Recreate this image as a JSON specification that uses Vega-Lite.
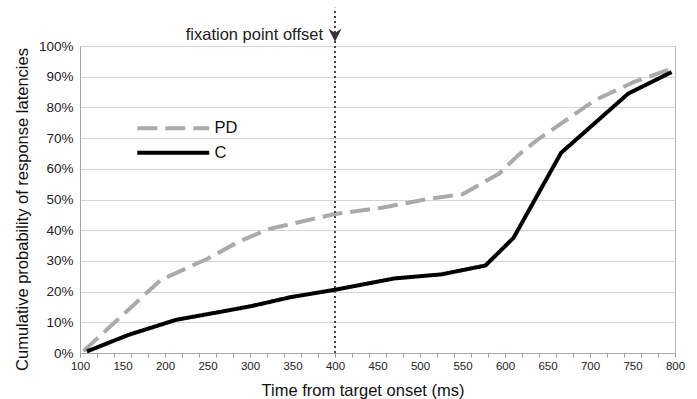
{
  "$schema": "https://vega.github.io/schema/vega-lite/v6.json",
  "width": 595,
  "height": 307,
  "autosize": {"type": "none"},
  "padding": {"left": 80, "top": 46, "right": 22, "bottom": 46},
  "background": "white",
  "config": {
    "font": "Liberation Sans",
    "view": {"stroke": "#b8b8b8", "strokeWidth": 1},
    "axis": {
      "labelFont": "Liberation Sans",
      "titleFont": "Liberation Sans",
      "labelColor": "#222222",
      "titleColor": "#111111",
      "titleFontWeight": "normal",
      "domainColor": "#a8a8a8"
    }
  },
  "resolve": {"axis": {"x": "independent", "y": "independent"}},
  "datasets": {
    "curves": [
      {"group": "PD", "t": 104, "p": 0.6},
      {"group": "PD", "t": 195, "p": 23.8},
      {"group": "PD", "t": 250, "p": 30.7},
      {"group": "PD", "t": 287, "p": 36.3},
      {"group": "PD", "t": 321, "p": 40.3},
      {"group": "PD", "t": 400, "p": 45.3},
      {"group": "PD", "t": 455, "p": 47.3},
      {"group": "PD", "t": 510, "p": 50.2},
      {"group": "PD", "t": 550, "p": 51.7},
      {"group": "PD", "t": 593, "p": 58.4},
      {"group": "PD", "t": 615, "p": 64.3},
      {"group": "PD", "t": 638, "p": 69.4},
      {"group": "PD", "t": 706, "p": 82.4},
      {"group": "PD", "t": 752, "p": 88.3},
      {"group": "PD", "t": 796, "p": 92.6},
      {"group": "C", "t": 108, "p": 0.5},
      {"group": "C", "t": 157, "p": 5.9},
      {"group": "C", "t": 213, "p": 10.8},
      {"group": "C", "t": 275, "p": 13.9},
      {"group": "C", "t": 302, "p": 15.3},
      {"group": "C", "t": 348, "p": 18.2},
      {"group": "C", "t": 400, "p": 20.6},
      {"group": "C", "t": 470, "p": 24.3},
      {"group": "C", "t": 525, "p": 25.6},
      {"group": "C", "t": 577, "p": 28.5},
      {"group": "C", "t": 610, "p": 37.5},
      {"group": "C", "t": 666, "p": 65.2},
      {"group": "C", "t": 745, "p": 84.5},
      {"group": "C", "t": 796, "p": 91.5}
    ]
  },
  "layer": [
    {
      "data": {"name": "curves"},
      "mark": {"type": "line", "strokeWidth": 4, "strokeCap": "butt", "strokeJoin": "round"},
      "encoding": {
        "x": {
          "field": "t",
          "type": "quantitative",
          "scale": {"domain": [100, 800], "nice": false, "zero": false},
          "axis": {
            "values": [100, 120, 140, 150, 160, 180, 200, 220, 240, 250, 260, 280, 300, 320, 340, 350, 360, 380, 400, 420, 440, 450, 460, 480, 500, 520, 540, 550, 560, 580, 600, 620, 640, 650, 660, 680, 700, 720, 740, 750, 760, 780, 800],
            "labelExpr": "datum.value % 50 == 0 ? datum.label : ''",
            "format": "d",
            "labelFontSize": 11.5,
            "labelOverlap": false,
            "labelFlush": false,
            "labelPadding": 3,
            "tickSize": 4,
            "tickColor": "#999999",
            "tickOpacity": {"condition": {"test": "datum.value % 20 == 0", "value": 1}, "value": 0},
            "grid": false,
            "title": "Time from target onset (ms)",
            "titleFontSize": 16.5,
            "titleX": 282.5,
            "titleY": 42.5,
            "titleBaseline": "alphabetic"
          }
        },
        "y": {
          "field": "p",
          "type": "quantitative",
          "scale": {"domain": [0, 100], "nice": false},
          "axis": {
            "values": [0, 10, 20, 30, 40, 50, 60, 70, 80, 90, 100],
            "labelExpr": "datum.value + '%'",
            "labelOverlap": false,
            "ticks": false,
            "labelPadding": 7,
            "labelFontSize": 13.5,
            "grid": true,
            "gridColor": "#d4d4d4",
            "title": "Cumulative probability of response latencies",
            "titleFontSize": 16.5,
            "titleX": -53,
            "titleY": 163,
            "titleBaseline": "alphabetic",
            "titleAngle": -90
          }
        },
        "color": {
          "field": "group",
          "type": "nominal",
          "scale": {"domain": ["PD", "C"], "range": ["#aaaaaa", "#000000"]},
          "legend": {
            "title": null,
            "orient": "none",
            "legendX": 55,
            "legendY": 74,
            "symbolType": "M-1,0L11,0",
            "symbolSize": 144,
            "symbolStrokeWidth": 4,
            "labelFontSize": 16.5,
            "labelFont": "Liberation Sans",
            "labelColor": "#111111",
            "labelOffset": 63,
            "rowPadding": 7.5
          }
        },
        "strokeDash": {
          "field": "group",
          "type": "nominal",
          "scale": {"domain": ["PD", "C"], "range": [[20, 8], [1, 0]]},
          "legend": {
            "title": null,
            "orient": "none",
            "legendX": 55,
            "legendY": 74,
            "symbolType": "M-1,0L11,0",
            "symbolSize": 144,
            "symbolStrokeWidth": 4,
            "labelFontSize": 16.5,
            "labelFont": "Liberation Sans",
            "labelColor": "#111111",
            "labelOffset": 63,
            "rowPadding": 7.5
          }
        }
      }
    },
    {
      "data": {"values": [{}]},
      "mark": {"type": "rule", "strokeDash": [2, 3], "strokeWidth": 2, "color": "#444444"},
      "encoding": {
        "x": {"datum": 400, "type": "quantitative", "axis": null},
        "y": {"datum": 0, "type": "quantitative", "axis": null},
        "y2": {"datum": 112.5}
      }
    },
    {
      "data": {"values": [{}]},
      "mark": {"type": "point", "shape": "M-1,-1L0,-0.4L1,-1L0,1Z", "filled": true, "size": 170, "color": "#333333", "opacity": 1},
      "encoding": {
        "x": {"datum": 400, "type": "quantitative", "axis": null},
        "y": {"datum": 103.5, "type": "quantitative", "axis": null}
      }
    },
    {
      "data": {"values": [{}]},
      "mark": {"type": "text", "text": "fixation point offset", "align": "right", "baseline": "alphabetic", "dx": -12, "fontSize": 16.5, "font": "Liberation Sans", "color": "#222222"},
      "encoding": {
        "x": {"datum": 400, "type": "quantitative", "axis": null},
        "y": {"datum": 102, "type": "quantitative", "axis": null}
      }
    }
  ]
}
